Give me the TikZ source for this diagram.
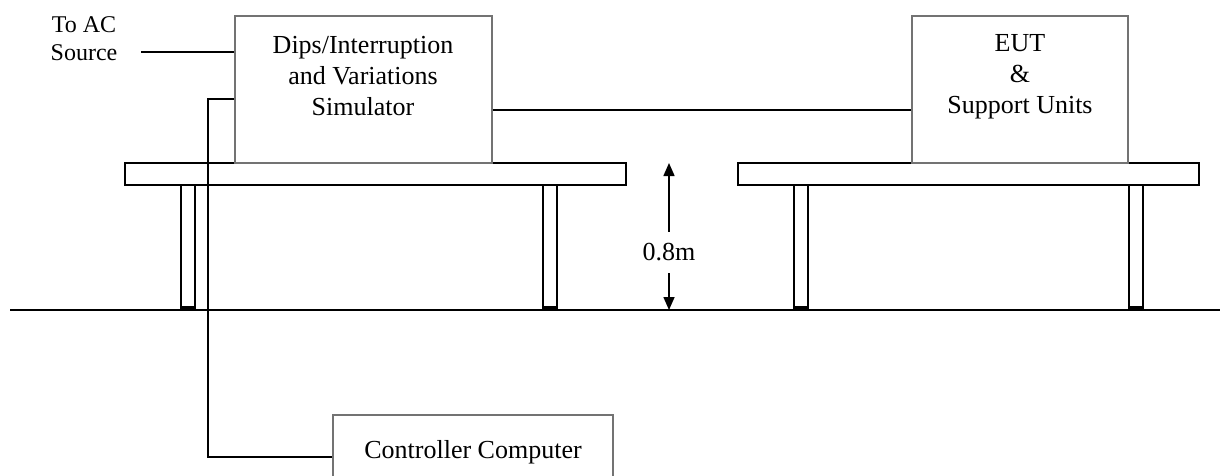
\documentclass[tikz,border=0pt]{standalone}
\usepackage{fontspec}
\setmainfont{Liberation Serif}
\usetikzlibrary{arrows.meta}
\definecolor{boxgray}{RGB}{115,115,115}
\begin{document}
\begin{tikzpicture}[x=1pt,y=-1pt,
  unitbox/.style={draw=boxgray,line width=1.8pt,fill=white,inner sep=0pt},
  plate/.style={draw=black,line width=1.5pt,fill=white,inner sep=0pt,minimum height=22pt},
  leg/.style={draw=black,line width=1.4pt,fill=white},
  cable/.style={draw=black,line width=1.5pt},
  txt/.style={font=\fontsize{26}{31}\selectfont,align=center,inner sep=0pt},
  smalltxt/.style={font=\fontsize{24}{28}\selectfont,align=center,inner sep=0pt},
  dimarrow/.style={draw=black,line width=1.5pt,{Triangle[length=13pt,width=11pt]}-{Triangle[length=13pt,width=11pt]}}
]
\useasboundingbox (0,0) rectangle (1220,475);
\clip (0,0) rectangle (1220,475);
\fill[white] (0,0) rectangle (1220,475);

% legs
\foreach \lx in {181,543,794,1129}{
  \draw[leg] (\lx,185) rectangle (\lx+14,310);
  \fill[black] (\lx,306) rectangle (\lx+14,310);
}
% floor
\coordinate (fl) at (10,310);
\coordinate (fr) at (1220,310);
\draw[cable] (fl) -- (fr);

% table plates
\node[plate,minimum width=501pt] (plate1) at (375.5,174) {};
\node[plate,minimum width=461pt] (plate2) at (968.5,174) {};

% boxes
\node[unitbox,minimum width=257pt,minimum height=147pt] (sim) at (363.5,89.5) {};
\node[txt] (simt) at (363,76) {Dips/Interruption\\and Variations\\Simulator};

\node[unitbox,minimum width=216pt,minimum height=147pt] (eut) at (1020,89.5) {};
\node[txt] (eutt) at (1020,77) {EUT\\\&\\Support Units};

\node[unitbox,minimum width=280pt,minimum height=80pt] (ctrl) at (473,455) {};
\node[txt] (ctrlt) at (473,452) {Controller Computer};

% AC source
\node[smalltxt] (ac) at (84,39) {To AC\\Source};
\coordinate (acend) at (141,52);
\draw[cable] (acend) -- (sim.west |- acend);

% simulator to EUT
\coordinate (l1) at (700,110);
\draw[cable] (sim.east |- l1) -- (eut.west |- l1);

% simulator to controller
\coordinate (c1) at (208,99);
\coordinate (c2) at (208,457);
\draw[cable] (sim.west |- c1) -- (c1) -- (c2) -- (ctrl.west |- c2);

% dimension
\coordinate (d1) at (669,163);
\coordinate (d2) at (669,310);
\draw[dimarrow] (d1) -- (d2);
\node[txt,fill=white,minimum height=41pt,inner xsep=2pt] (dim) at (669,252) {0.8m};
\end{tikzpicture}
\end{document}
